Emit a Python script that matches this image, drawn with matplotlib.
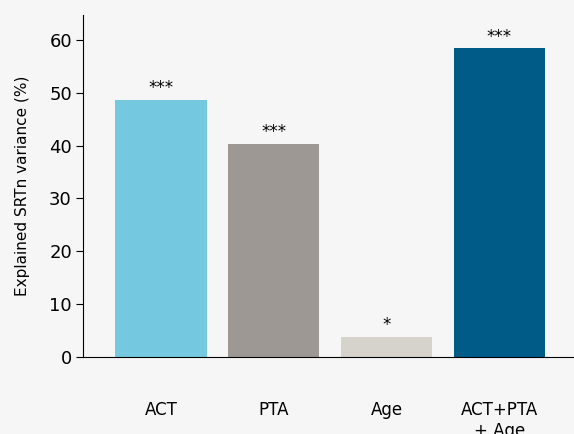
import matplotlib.pyplot as plt

labels = ["ACT", "PTA", "Age", "ACT+PTA\n+ Age"]
values = [48.6, 40.3, 3.8, 58.4]
stars = ["***", "***", "*", "***"]
colors = ["#74c8e0", "#9d9894", "#d6d3cc", "#005c87"]

fig = plt.figure(figsize=(5.74, 4.34), dpi=100)
fig.patch.set_facecolor("#f6f6f6")
ax = fig.add_axes([83/574, 1-357/434, 491/574, 342/434])
ax.set_facecolor("#f6f6f6")

x = range(len(values))
ax.bar(x, values, width=0.81, color=colors)
for i, (v, s) in enumerate(zip(values, stars)):
    ax.text(i, v + 0.5, s, ha="center", va="bottom", fontsize=12)

ax.set_xlim(-0.69, 3.66)
ax.set_ylim(0, 64.7)
ax.set_yticks(range(0, 61, 10))
ax.set_xticks(list(x))
ax.set_xticklabels(labels, fontsize=12, va="top")
ax.tick_params(axis="x", length=0, pad=32)
ax.tick_params(axis="y", labelsize=13, direction="out", length=5, pad=3)
ax.set_ylabel("Explained SRTn variance (%)", fontsize=11, labelpad=14)
ax.spines["top"].set_visible(False)
ax.spines["right"].set_visible(False)

fig.savefig("out.png", dpi=100, facecolor=fig.get_facecolor())
